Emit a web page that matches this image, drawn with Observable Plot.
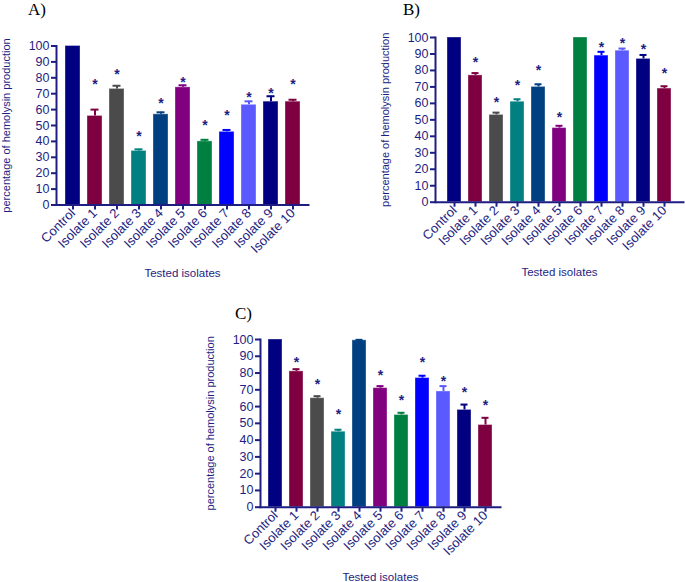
<!DOCTYPE html>
<html><head><meta charset="utf-8">
<script src="https://cdn.jsdelivr.net/npm/d3@7"></script>
<script src="https://cdn.jsdelivr.net/npm/@observablehq/plot@0.6"></script>
<style>
body{margin:0;background:#fff}
#root{position:relative;width:685px;height:582px;overflow:hidden;font-family:"Liberation Sans",Arial,sans-serif}
#root svg{position:absolute}
.tag{position:absolute;font-family:"Liberation Serif","Times New Roman",serif;font-size:17px;color:#000;line-height:1}
</style></head><body><div id="root"></div>
<script>
const categories = ["Control","Isolate 1","Isolate 2","Isolate 3","Isolate 4","Isolate 5","Isolate 6","Isolate 7","Isolate 8","Isolate 9","Isolate 10"];
const barColors = ["#000080","#7f0040","#4b4b4b","#008080","#004080","#800080","#008040","#0000ff","#5a5aff","#000080","#7f0040"];
const yTicks = [0,10,20,30,40,50,60,70,80,90,100];
const yTitle = "percentage of hemolysin production";
const xTitle = "Tested isolates";
const panelTags = ["A)","B)","C)"];

// Panel A
const valuesA = [100,56,73,34,57,74,40,46,63,65,65];
const errA    = [null,60,75,35,58.3,75.3,41,47.2,65.2,68.4,66.2];
const starA   = [null,77.4,83.8,44.8,65.6,79,52,58.3,69.8,71.7,77.4];
// Panel B
const valuesB = [100,77,53,61,70,45,100,89,92,87,69];
const errB    = [null,78.4,54.4,62.5,71.6,46.4,null,91.3,93.3,89.4,70.4];
const starB   = [null,86.5,62.3,72.8,81.5,53,null,96,98,94.4,79.7];
// Panel C
const valuesC = [100,81,65,45,99.5,71,55,77,69,58,49];
const errC    = [null,82.3,66.2,46.2,99.8,72.2,56.3,78.4,72.2,61.2,53.3];
const starC   = [null,88.2,75,56.9,null,80.5,65.6,88.2,76.9,70.4,62.4];

const axisColor = "#1e1e82";

function rowsOf(vals, errs, stars) {
  return categories.map((c, i) => ({name: c, value: vals[i], err: errs[i], star: stars[i]}));
}

function panel(rows, L) {
  const svg = Plot.plot({
    width: L.w, height: L.h,
    marginLeft: L.ml, marginRight: L.mr, marginTop: L.mt, marginBottom: L.mb,
    style: {fontFamily: "'Liberation Sans', Arial, sans-serif", fontSize: "12px", color: axisColor, background: "transparent", overflow: "visible"},
    x: {domain: categories, paddingInner: 0.33, paddingOuter: 0.36, label: null},
    y: {domain: [0, 100], label: null},
    color: {type: "ordinal", domain: categories, range: barColors},
    marks: [
      Plot.barY(rows, {x: "name", y: "value", fill: "name", stroke: "#ffffff", strokeOpacity: 0.35, strokeWidth: 1}),
      Plot.ruleX(rows.filter(d => d.err != null), {x: "name", y1: "value", y2: "err", stroke: "name", strokeWidth: 2}),
      Plot.tickY(rows.filter(d => d.err != null), {x: "name", y: "err", stroke: "name", strokeWidth: 2, insetLeft: 3.5, insetRight: 3.5}),
      Plot.text(rows.filter(d => d.star != null), {x: "name", y: "star", text: () => "*", fill: axisColor, fontSize: 14, fontWeight: "bold", dy: 3}),
      Plot.axisY({ticks: yTicks, tickSize: 5, tickPadding: 2, stroke: axisColor, strokeWidth: 2, fill: axisColor, fontSize: 12.5, label: null}),
      Plot.axisX({tickRotate: -45, tickSize: 5, tickPadding: 1, stroke: axisColor, strokeWidth: 2, fill: axisColor, fontSize: 13, label: null}),
      Plot.frame({anchor: "left", stroke: axisColor, strokeWidth: 2}),
      Plot.frame({anchor: "bottom", stroke: axisColor, strokeWidth: 2}),
      Plot.text([yTitle], {frameAnchor: "left", dx: -50, rotate: -90, textAnchor: "middle", fill: axisColor, fontSize: 11, lineAnchor: "middle"}),
      Plot.text([xTitle], {frameAnchor: "bottom", dy: L.xt, textAnchor: "middle", fill: axisColor, fontSize: 11.5, lineAnchor: "middle"})
    ]
  });
  svg.style.left = L.x + "px";
  svg.style.top = L.y + "px";
  return svg;
}

const root = document.getElementById("root");
const layouts = [
  {x: 0,   y: 0,   w: 340, h: 290, ml: 56, mr: 32, mt: 45.5, mb: 85.5, xt: 68.5, tx: 28,  ty: 1},
  {x: 340, y: 0,   w: 345, h: 290, ml: 95, mr: 2,  mt: 37,   mb: 88.3, xt: 70.5, tx: 403, ty: 1},
  {x: 190, y: 290, w: 340, h: 292, ml: 70, mr: 30, mt: 49,   mb: 75.3, xt: 70,   tx: 235, ty: 305}
];
const data = [rowsOf(valuesA, errA, starA), rowsOf(valuesB, errB, starB), rowsOf(valuesC, errC, starC)];
layouts.forEach((L, i) => {
  root.appendChild(panel(data[i], L));
  const t = document.createElement("div");
  t.className = "tag";
  t.textContent = panelTags[i];
  t.style.left = L.tx + "px";
  t.style.top = L.ty + "px";
  root.appendChild(t);
});
</script>
</body></html>
